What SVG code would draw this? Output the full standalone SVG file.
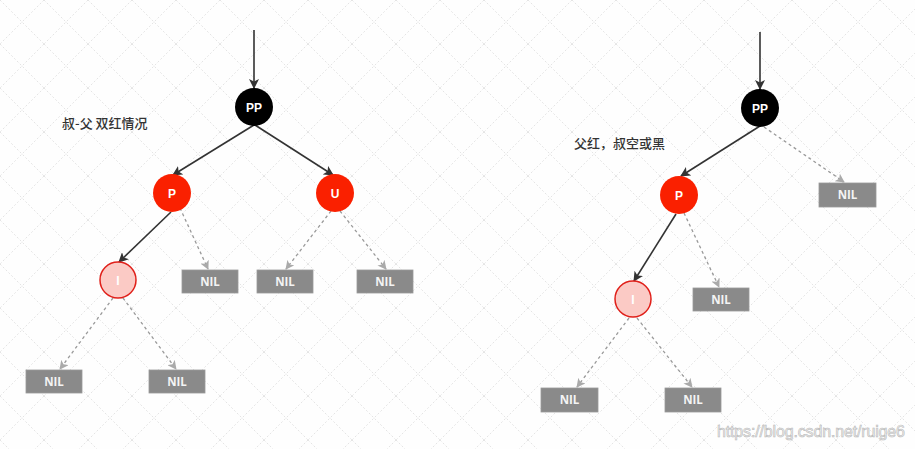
<svg xmlns="http://www.w3.org/2000/svg" width="915" height="449" viewBox="0 0 915 449">
<defs>
<pattern id="grid" x="0" y="0" width="44" height="44" patternUnits="userSpaceOnUse">
<path d="M0,0 L44,44 M44,0 L0,44" stroke="#e4e4e4" stroke-width="1" stroke-dasharray="2,2" fill="none"/>
</pattern>
<marker id="ah" viewBox="0 0 10 10" refX="9" refY="5" markerWidth="10" markerHeight="10" markerUnits="userSpaceOnUse" orient="auto">
<path d="M0,0 L10,5 L0,10 L2.5,5 Z" fill="#333"/>
</marker>
<marker id="ahg" viewBox="0 0 10 10" refX="9" refY="5" markerWidth="9" markerHeight="9" markerUnits="userSpaceOnUse" orient="auto">
<path d="M0,0 L10,5 L0,10 L2.5,5 Z" fill="#aaa"/>
</marker>
</defs>
<style>
.solid{stroke:#333;stroke-width:1.6;fill:none;marker-end:url(#ah)}
.dash{stroke:#999;stroke-width:1.3;stroke-dasharray:3,3;fill:none;marker-end:url(#ahg)}
.black{fill:#000}
.red{fill:#fa2000}
.pink{fill:#fbcac5;stroke:#e0201a;stroke-width:1.5}
.nil{fill:#8a8a8a;stroke:#9a9a9a;stroke-width:0.8}
.lbl{font-family:"Liberation Sans",Arial,sans-serif;font-weight:bold;font-size:12px;fill:#fff;text-anchor:middle}
.nlbl{font-family:"Open Sans","Liberation Sans",sans-serif;font-weight:bold;font-size:11.5px;fill:#f4f4f4;text-anchor:middle}
.note{font-family:"Noto Sans CJK SC","Noto Sans",sans-serif;font-size:13px;font-weight:500;fill:#333}
</style>
<rect width="915" height="449" fill="#fefefe"/>
<rect width="915" height="449" fill="url(#grid)"/>

<g id="connectors">
<line class="solid" x1="254" y1="30" x2="254" y2="88"/>
<line class="solid" x1="254" y1="125" x2="173" y2="175"/>
<line class="solid" x1="255" y1="125" x2="333" y2="175"/>
<line class="solid" x1="171" y1="212" x2="119" y2="262"/>
<line class="dash" x1="180" y1="208" x2="208" y2="269"/>
<line class="dash" x1="331" y1="211" x2="286" y2="269"/>
<line class="dash" x1="340" y1="211" x2="386" y2="269"/>
<line class="dash" x1="113" y1="298" x2="60" y2="369"/>
<line class="dash" x1="123" y1="298" x2="176" y2="369"/>

<line class="solid" x1="760" y1="32" x2="760" y2="89"/>
<line class="solid" x1="760" y1="126" x2="681" y2="176"/>
<line class="dash" x1="764" y1="127" x2="844" y2="182"/>
<line class="solid" x1="676" y1="214" x2="634" y2="281"/>
<line class="dash" x1="684" y1="213" x2="719" y2="287"/>
<line class="dash" x1="629" y1="318" x2="577" y2="387"/>
<line class="dash" x1="637" y1="318" x2="692" y2="387"/>
</g>

<text class="note" x="62" y="128">叔-父 双红情况</text>
<text class="note" x="574" y="148">父红，叔空或黑</text>

<g id="pp1"><circle class="black" cx="254" cy="107" r="19"/><text class="lbl" x="254" y="111.5">PP</text></g>
<g id="p1"><circle class="red" cx="172" cy="193" r="19"/><text class="lbl" x="172" y="197.5">P</text></g>
<g id="u1"><circle class="red" cx="335" cy="193" r="19"/><text class="lbl" x="335" y="197.5">U</text></g>
<g id="i1"><circle class="pink" cx="118" cy="280" r="18"/><text class="lbl" x="118" y="284.5">I</text></g>
<g id="nil1"><rect class="nil" x="182" y="270" width="56" height="23"/><text class="nlbl" x="210" y="285.5">NIL</text></g>
<g id="nil2"><rect class="nil" x="257" y="270" width="56" height="23"/><text class="nlbl" x="285" y="285.5">NIL</text></g>
<g id="nil3"><rect class="nil" x="357" y="270" width="56" height="23"/><text class="nlbl" x="385" y="285.5">NIL</text></g>
<g id="nil4"><rect class="nil" x="26" y="370" width="56" height="23"/><text class="nlbl" x="54" y="385.5">NIL</text></g>
<g id="nil5"><rect class="nil" x="149" y="370" width="56" height="23"/><text class="nlbl" x="177" y="385.5">NIL</text></g>

<g id="pp2"><circle class="black" cx="760" cy="108" r="19"/><text class="lbl" x="760" y="112.5">PP</text></g>
<g id="p2"><circle class="red" cx="679" cy="195" r="19"/><text class="lbl" x="679" y="199.5">P</text></g>
<g id="i2"><circle class="pink" cx="633" cy="299" r="18"/><text class="lbl" x="633" y="303.5">I</text></g>
<g id="nil6"><rect class="nil" x="819" y="183" width="57" height="24"/><text class="nlbl" x="847.5" y="199">NIL</text></g>
<g id="nil7"><rect class="nil" x="693" y="288" width="56" height="23"/><text class="nlbl" x="721" y="303.5">NIL</text></g>
<g id="nil8"><rect class="nil" x="541" y="388" width="57" height="24"/><text class="nlbl" x="569.5" y="404">NIL</text></g>
<g id="nil9"><rect class="nil" x="665" y="388" width="56" height="24"/><text class="nlbl" x="693" y="404">NIL</text></g>

<text x="717" y="437" font-family="Liberation Sans,Arial,sans-serif" font-size="16" fill="#f2f2f2" stroke="#b8b8b8" stroke-width="0.6" textLength="188">https://blog.csdn.net/ruige6</text>
</svg>
